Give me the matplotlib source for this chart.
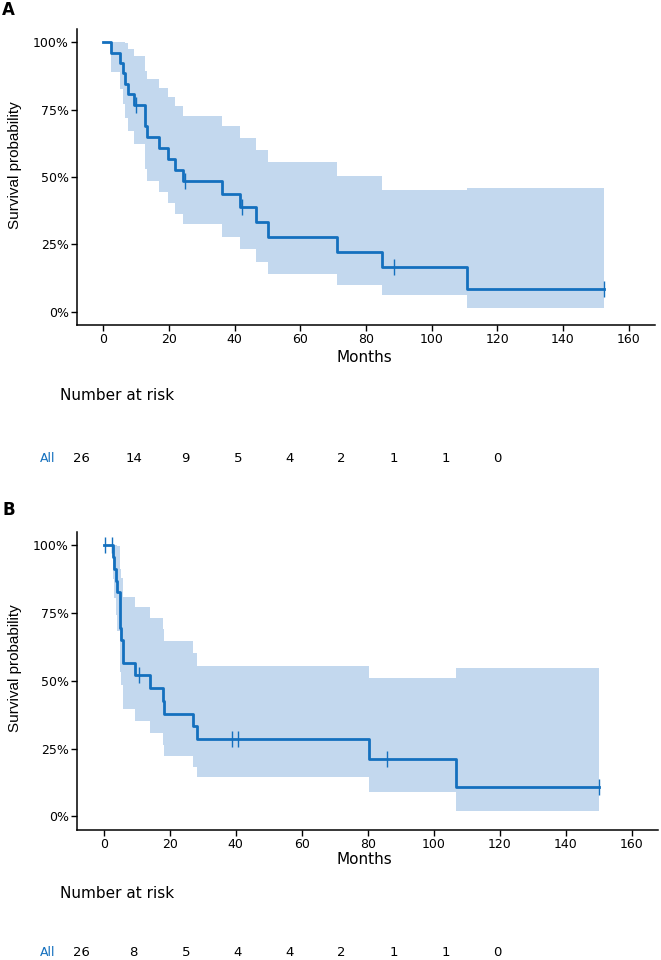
import matplotlib
matplotlib.use("Agg")
import matplotlib.pyplot as plt
import numpy as np

# Panel A: Kaplan-Meier steps (months), survival and confidence band
times_a = [0, 2.5, 5.1, 5.9, 6.6, 7.4, 9.4, 12.7, 13.2, 17.1, 19.7, 21.7, 24.3,
           36.3, 41.7, 46.6, 50.1, 71.1, 85.0, 110.8]
surv_a = [1.0, .962, .923, .885, .846, .808, .769, .688, .648, .607, .567, .526, .486,
          .437, .389, .333, .278, .222, .167, .083]
upper_a = [1.0, 1.0, 1.0, 1.0, .997, .974, .949, .893, .863, .831, .798, .763, .727,
           .688, .646, .602, .554, .504, .451, .459]
lower_a = [1.0, .890, .826, .770, .718, .670, .623, .530, .486, .444, .403, .363, .325,
           .278, .234, .184, .139, .098, .062, .015]
end_a = 152.4
censor_a = [10.0, 25.0, 42.3, 88.4, 152.4]
risk_a = [26, 14, 9, 5, 4, 2, 1, 1, 0]

# Panel B
times_b = [0, 2.8, 3.2, 3.6, 4.0, 5.0, 5.3, 6.0, 9.4, 13.9, 17.9, 18.2, 27.0, 28.3,
           80.4, 106.8]
surv_b = [1.0, .957, .913, .870, .826, .696, .652, .565, .522, .474, .427, .379, .332,
          .285, .213, .107]
upper_b = [1.0, 1.0, 1.0, 1.0, .997, .912, .879, .809, .772, .732, .690, .647, .601,
           .554, .512, .549]
lower_b = [1.0, .877, .805, .742, .685, .531, .484, .395, .353, .307, .264, .223, .183,
           .146, .089, .021]
end_b = 150.0
censor_b = [0.5, 2.6, 10.7, 39.0, 40.8, 86.0, 150.0]
risk_b = [26, 8, 5, 4, 4, 2, 1, 1, 0]

risk_times = [0, 20, 40, 60, 80, 100, 120, 140, 160]
xticks = [0, 20, 40, 60, 80, 100, 120, 140, 160]
yticks = [0, 0.25, 0.5, 0.75, 1.0]
ylabels = ["0%", "25%", "50%", "75%", "100%"]

LINE = "#1470be"
BAND = "#c3d8ee"
W, H = 661, 960

fig = plt.figure(figsize=(6.61, 9.6), dpi=100)


def px(x0, y0, x1, y1):
    # pixel box (top-left / bottom-right) -> figure fraction rect
    return [x0 / W, 1 - y1 / H, (x1 - x0) / W, (y1 - y0) / H]


def km_panel(rect, times, surv, lower, upper, end, censor):
    ax = fig.add_axes(rect)
    t = list(times) + [end]
    ax.fill_between(t, list(lower) + [lower[-1]], list(upper) + [upper[-1]],
                    step="post", color=BAND, lw=0)
    ax.step(t, list(surv) + [surv[-1]], where="post", color=LINE, lw=2.0)
    tt = np.array(times)
    cy = [surv[np.searchsorted(tt, c, side="right") - 1] for c in censor]
    ax.plot(censor, cy, ls="none", marker="|", ms=12, mew=1.0, color=LINE)
    ax.set_xlim(-8, 168)
    ax.set_ylim(-0.05, 1.05)
    ax.set_xticks(xticks)
    ax.set_yticks(yticks)
    ax.set_yticklabels(ylabels)
    for s in ["top", "right"]:
        ax.spines[s].set_visible(False)
    for s in ["left", "bottom"]:
        ax.spines[s].set_linewidth(1.1)
    ax.tick_params(labelsize=9, length=4, width=1.0, pad=2)
    return ax


def risk_row(y_px, counts, title_y):
    ax = fig.add_axes(px(60.9, y_px - 10, 518.5, y_px + 10))
    ax.set_xlim(-8, 168)
    ax.set_ylim(-1, 1)
    ax.axis("off")
    for t, n in zip(risk_times, counts):
        ax.text(t, 0, str(n), ha="center", va="center", fontsize=9.5)
    fig.text(48 / W, 1 - y_px / H, "All", ha="center", va="center",
             fontsize=9, color=LINE)
    fig.text(60 / W, 1 - title_y / H, "Number at risk", ha="left",
             va="center", fontsize=11)


km_panel(px(77, 29, 655, 325), times_a, surv_a, lower_a, upper_a, end_a, censor_a)
km_panel(px(77.3, 531.7, 658, 830), times_b, surv_b, lower_b, upper_b, end_b, censor_b)

for lab, ly, ycen, mcen in [("A", 10, 165, 357), ("B", 510, 668, 860)]:
    fig.text(2 / W, 1 - ly / H, lab, fontsize=12, fontweight="bold",
             ha="left", va="center")
    fig.text(15 / W, 1 - ycen / H, "Survival probability", rotation=90,
             ha="center", va="center", fontsize=11, family="Liberation Sans")
    fig.text(364 / W, 1 - mcen / H, "Months", ha="center", va="center",
             fontsize=11)

risk_row(458, risk_a, 396)
risk_row(953, risk_b, 894)

fig.savefig("out.png", dpi=100)
